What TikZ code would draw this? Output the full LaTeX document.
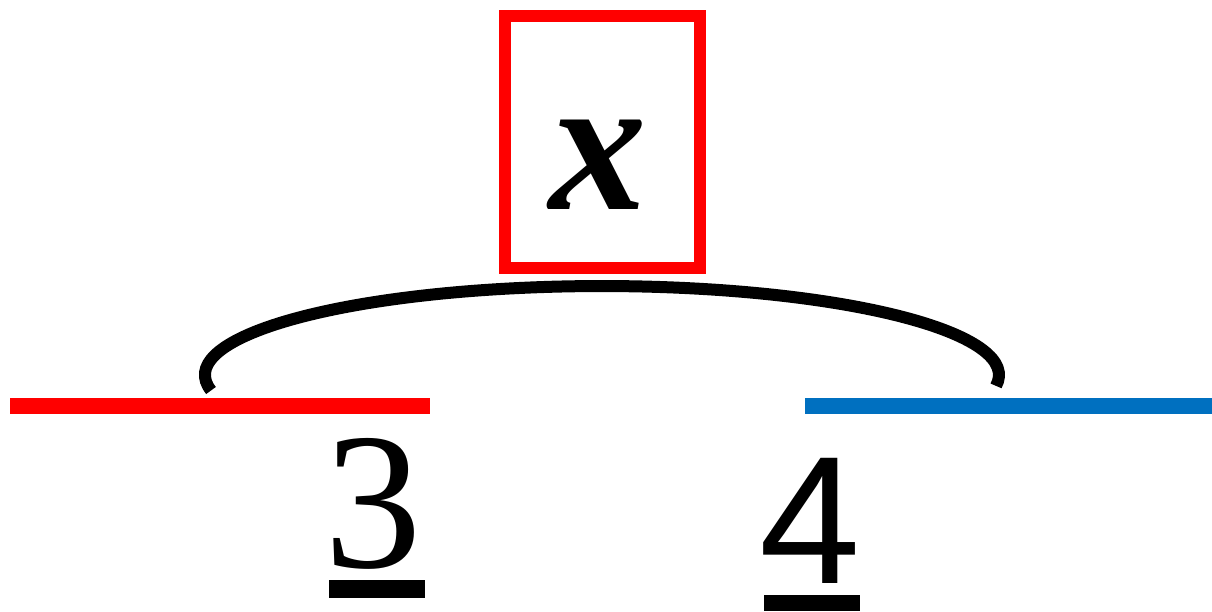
\documentclass[tikz,border=0pt]{standalone}
\usepackage{fontspec}
\setmainfont{Liberation Serif}
\newfontfamily\sansdigit{Liberation Sans}
\definecolor{barblue}{RGB}{0,112,192}
\begin{document}
\begin{tikzpicture}[
    x=1pt, y=1pt,
    varbox/.style={draw=red, line width=12pt, minimum width=195pt, minimum height=252pt, inner sep=0pt},
    vartext/.style={anchor=base, inner sep=0pt, font=\fontsize{195}{200}\selectfont\bfseries\itshape},
    numtext/.style={anchor=base, inner sep=0pt, font=\fontsize{195}{200}\selectfont},
    segment/.style={line width=16pt},
    bracket/.style={line width=12pt, black},
    ubar/.style={fill=black}
]
\useasboundingbox (0,0) rectangle (1212,611);

% Unknown
\node[varbox] (box) at (602.5,469) {};
\node[vartext] (var) at (598,401) {x};

% Segments
\coordinate (redA) at (10,205);
\coordinate (redB) at (430,205);
\coordinate (blueA) at (805,205);
\coordinate (blueB) at (1212,205);
\draw[segment, red] (redA) -- (redB);
\draw[segment, barblue] (blueA) -- (blueB);

% Bracket over both segments
\coordinate (arcL) at (211,220.5);
\draw[bracket] (arcL) arc[start angle=190, end angle=-7, x radius=397, y radius=89];

% Numbers
\node[numtext] (three) at (373,44) {3};
\node[numtext, font=\fontsize{182}{190}\sansdigit] (four) at (810,28) {4};
\fill[ubar] (329,13) rectangle (425,31);
\fill[ubar] (764,0) rectangle (860,16);

\end{tikzpicture}
\end{document}
